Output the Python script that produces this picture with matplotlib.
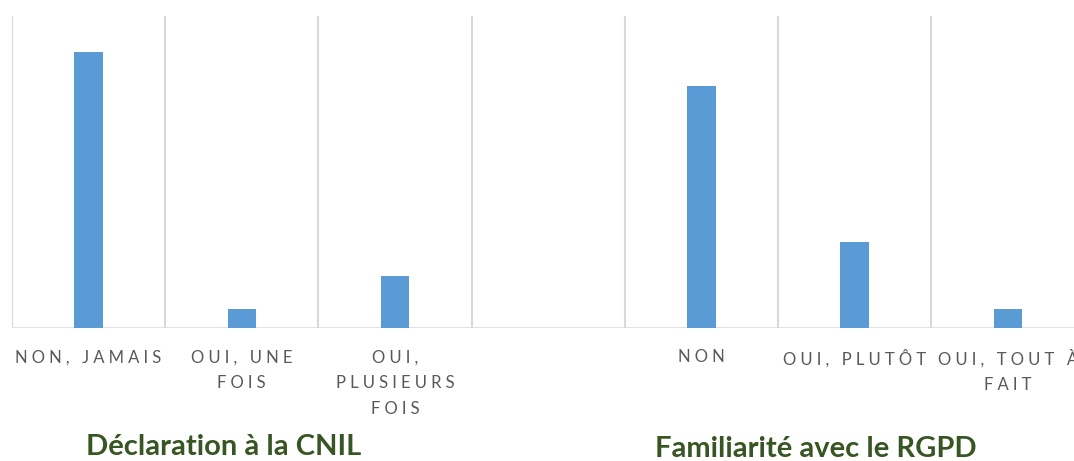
import numpy as np
import matplotlib.pyplot as plt
from matplotlib.transforms import blended_transform_factory

# category labels (one empty slot separates the two questions)
categories = ['NON, JAMAIS', 'OUI, UNE\nFOIS', 'OUI,\nPLUSIEURS\nFOIS', '',
              'NON', 'OUI, PLUTÔT', 'OUI, TOUT À\nFAIT']
# share of respondents (%)
values = [79.5, 5.5, 15.1, 0, 69.9, 24.7, 5.5]
group_titles = ['Déclaration à la CNIL', 'Familiarité avec le RGPD']

W, H = 1074, 461
fig = plt.figure(figsize=(W / 100, H / 100), dpi=100)
# plot area runs past the right edge, as in the original crop
slot = 153.2
ax = fig.add_axes([12 / W, (H - 328) / H, 7 * slot / W, (328 - 16) / H])

x = np.arange(len(categories))
ax.bar(x, values, width=0.185, color='#5B9BD5', zorder=3)

ax.set_xlim(-0.5, 6.5)
ax.set_ylim(0, 90)
for xb in np.arange(-0.5, 7, 1):
    ax.axvline(xb, color='#D9D9D9', lw=1.5, zorder=1)
ax.axhline(0, color='#D9D9D9', lw=1.8, zorder=2)

for s in ax.spines.values():
    s.set_visible(False)
ax.set_yticks([])
ax.set_xticks([])


def spaced(txt):
    # mimic the wide letter spacing of the source
    return '\n'.join('\u2005'.join(line) for line in txt.split('\n'))


trans = blended_transform_factory(ax.transData, ax.transAxes)
for xi, lab in zip(x, categories):
    if lab:
        ax.text(xi, -0.068, spaced(lab), transform=trans, ha='center', va='top',
                fontsize=12, color='#595959', linespacing=1.75,
                family=['Lato', 'DejaVu Sans'], clip_on=False)

fig.text(224 / W, 1 - 447 / H, group_titles[0], ha='center', va='center',
         fontsize=21, fontweight='bold', color='#375623', family=['Lato', 'DejaVu Sans'])
fig.text(816 / W, 1 - 449 / H, group_titles[1], ha='center', va='center',
         fontsize=21, fontweight='bold', color='#375623', family=['Lato', 'DejaVu Sans'])

fig.savefig('out.png', dpi=100)
